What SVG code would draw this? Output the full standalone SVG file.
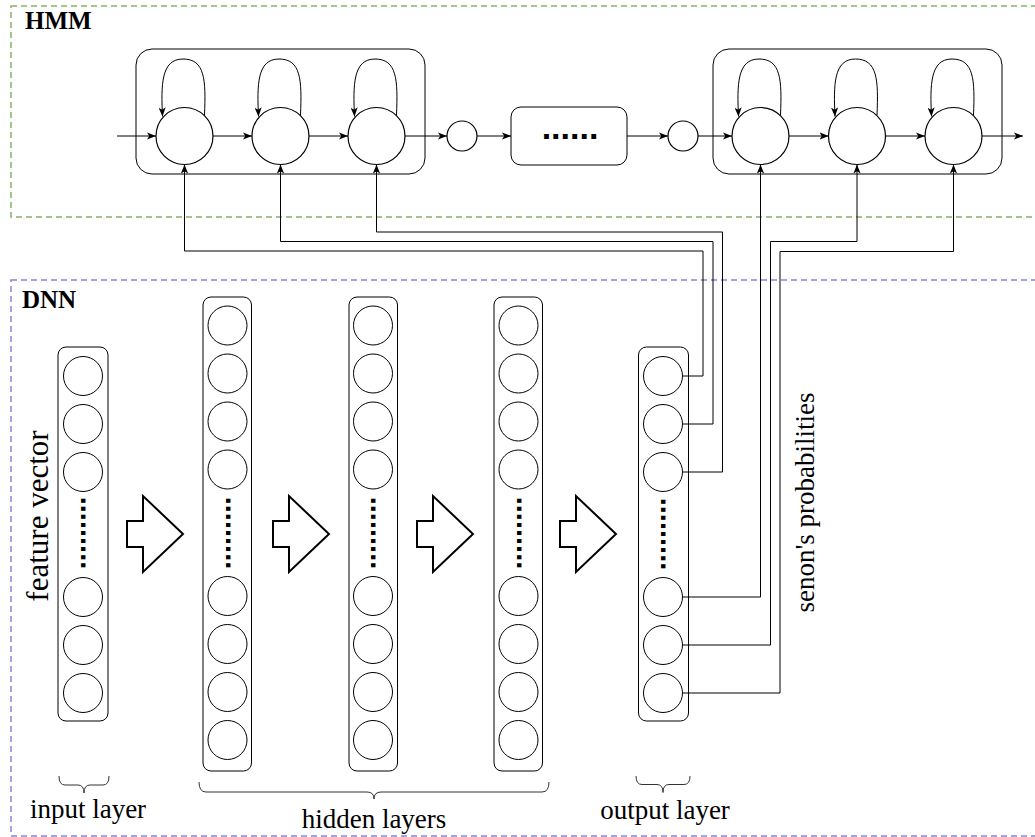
<svg xmlns="http://www.w3.org/2000/svg" width="1035" height="837" viewBox="0 0 1035 837">
  <defs>
    <marker id="arrow" viewBox="0 0 10 8" refX="10" refY="4" markerWidth="9" markerHeight="7.2" markerUnits="userSpaceOnUse" orient="auto">
      <path d="M0,0 L10,4 L0,8 L2.5,4 z" fill="#000"/>
    </marker>
    <polygon id="block-arrow" points="127,521 143,521 143,496 183,534 143,572 143,547 127,547"/>
    <style>
      .frame-hmm{fill:none;stroke:#82b366;stroke-width:1.5;stroke-dasharray:6 4}
      .frame-dnn{fill:none;stroke:#8585dc;stroke-width:1.5;stroke-dasharray:6 4}
      .box{fill:none;stroke:#000;stroke-width:1}
      .state{fill:#fff;stroke:#000;stroke-width:1.2}
      .unit{fill:#fff;stroke:#000;stroke-width:1}
      .wire{fill:none;stroke:#000;stroke-width:1}
      .arr{marker-end:url(#arrow)}
      .block{fill:#fff;stroke:#000;stroke-width:2}
      .brace{fill:none;stroke:#333;stroke-width:1}
      .label{font-family:"Liberation Serif","Times New Roman",serif;font-size:27px;fill:#000}
      .label-big{font-size:31px}
      .title{font-family:"Liberation Serif","Times New Roman",serif;font-size:25px;font-weight:bold;fill:#000}
      .dots{font-family:"Liberation Sans",Arial,sans-serif;font-weight:bold;font-size:34px;fill:#000}
      .vdots{font-family:"Liberation Sans",Arial,sans-serif;font-weight:bold;font-size:29px;fill:#000}
    </style>
  </defs>

  <rect width="1035" height="837" fill="#fff"/>

  <!-- frames -->
  <g id="hmm-frame">
    <rect class="frame-hmm" x="11" y="6" width="1040" height="211"/>
    <text class="title" x="25" y="29">HMM</text>
  </g>
  <g id="dnn-frame">
    <rect class="frame-dnn" x="11" y="280" width="1040" height="556"/>
    <text class="title" x="22" y="308">DNN</text>
  </g>

  <!-- connectors -->
  <g id="connectors">
    <!-- chain transitions -->
    <line class="wire arr" x1="117" y1="136" x2="156" y2="136"/>
    <line class="wire arr" x1="213" y1="136" x2="252" y2="136"/>
    <line class="wire arr" x1="309" y1="136" x2="348" y2="136"/>
    <line class="wire arr" x1="405" y1="136" x2="447" y2="136"/>
    <line class="wire arr" x1="477" y1="136" x2="511" y2="136"/>
    <line class="wire arr" x1="627" y1="136" x2="668" y2="136"/>
    <line class="wire arr" x1="698" y1="136" x2="732" y2="136"/>
    <line class="wire arr" x1="789" y1="136" x2="828.5" y2="136"/>
    <line class="wire arr" x1="885.5" y1="136" x2="925" y2="136"/>
    <line class="wire arr" x1="982" y1="136" x2="1023" y2="136"/>
    <!-- self loops -->
    <path class="wire arr" d="M204.5,115 C206,80 205,59 183,59 C161,59 161,85 162.5,116.5"/>
    <path class="wire arr" d="M300.5,115 C302,80 301,59 279,59 C257,59 257,85 258.5,116.5"/>
    <path class="wire arr" d="M396.5,115 C398,80 397,59 375,59 C353,59 353,85 354.5,116.5"/>
    <path class="wire arr" d="M780.5,115 C782,80 781,59 759,59 C737,59 737,85 738.5,116.5"/>
    <path class="wire arr" d="M877,115 C878.5,80 877.5,59 855.5,59 C833.5,59 833.5,85 835,116.5"/>
    <path class="wire arr" d="M973.5,115 C975,80 974,59 952,59 C930,59 930,85 931.5,116.5"/>
    <!-- output units to HMM states -->
    <polyline class="wire arr" points="682.5,376 703,376 703,251 184.5,251 184.5,164.5"/>
    <polyline class="wire arr" points="682.5,424 713,424 713,241.5 280.5,241.5 280.5,164.5"/>
    <polyline class="wire arr" points="682.5,472 722.5,472 722.5,232 376.5,232 376.5,164.5"/>
    <polyline class="wire arr" points="682.5,597 760.5,597 760.5,164.5"/>
    <polyline class="wire arr" points="682.5,645 770.5,645 770.5,241.5 857,241.5 857,164.5"/>
    <polyline class="wire arr" points="682.5,693 780,693 780,251.5 953.5,251.5 953.5,164.5"/>
  </g>

  <!-- HMM nodes -->
  <g id="hmm-model-a">
    <rect class="box" x="136" y="49" width="289" height="125" rx="16"/>
  </g>
  <g id="state-a1"><circle class="state" cx="184.5" cy="136" r="28.5"/></g>
  <g id="state-a2"><circle class="state" cx="280.5" cy="136" r="28.5"/></g>
  <g id="state-a3"><circle class="state" cx="376.5" cy="136" r="28.5"/></g>
  <g id="junction-1"><circle class="state" cx="462" cy="136" r="15"/></g>
  <g id="hmm-ellipsis">
    <rect class="box" x="511" y="107" width="116" height="58" rx="10" fill="#fff"/>
    <text class="dots" x="570" y="138.5" text-anchor="middle">......</text>
  </g>
  <g id="junction-2"><circle class="state" cx="683" cy="136" r="15"/></g>
  <g id="hmm-model-b">
    <rect class="box" x="713" y="49" width="289" height="125" rx="16"/>
  </g>
  <g id="state-b1"><circle class="state" cx="760.5" cy="136" r="28.5"/></g>
  <g id="state-b2"><circle class="state" cx="857" cy="136" r="28.5"/></g>
  <g id="state-b3"><circle class="state" cx="953.5" cy="136" r="28.5"/></g>

  <!-- DNN layers -->
  <g id="input-layer">
    <rect class="box" x="58" y="347" width="50" height="374" rx="8"/>
    <circle class="unit" cx="83" cy="376" r="19.5"/>
    <circle class="unit" cx="83" cy="424" r="19.5"/>
    <circle class="unit" cx="83" cy="472" r="19.5"/>
    <text class="vdots" transform="translate(83,533) rotate(90)" x="0" y="2" text-anchor="middle">.........</text>
    <circle class="unit" cx="83" cy="597" r="19.5"/>
    <circle class="unit" cx="83" cy="645" r="19.5"/>
    <circle class="unit" cx="83" cy="693" r="19.5"/>
  </g>
  <g id="hidden-layer-1">
    <rect class="box" x="203" y="297" width="48.5" height="474" rx="8"/>
    <circle class="unit" cx="227.5" cy="325.5" r="19.5"/>
    <circle class="unit" cx="227.5" cy="373.5" r="19.5"/>
    <circle class="unit" cx="227.5" cy="421.5" r="19.5"/>
    <circle class="unit" cx="227.5" cy="469.5" r="19.5"/>
    <text class="vdots" transform="translate(227.5,533) rotate(90)" x="0" y="2" text-anchor="middle">.........</text>
    <circle class="unit" cx="227.5" cy="596" r="19.5"/>
    <circle class="unit" cx="227.5" cy="644" r="19.5"/>
    <circle class="unit" cx="227.5" cy="692" r="19.5"/>
    <circle class="unit" cx="227.5" cy="740" r="19.5"/>
  </g>
  <g id="hidden-layer-2">
    <rect class="box" x="349" y="297" width="48.5" height="474" rx="8"/>
    <circle class="unit" cx="373" cy="325.5" r="19.5"/>
    <circle class="unit" cx="373" cy="373.5" r="19.5"/>
    <circle class="unit" cx="373" cy="421.5" r="19.5"/>
    <circle class="unit" cx="373" cy="469.5" r="19.5"/>
    <text class="vdots" transform="translate(373,533) rotate(90)" x="0" y="2" text-anchor="middle">.........</text>
    <circle class="unit" cx="373" cy="596" r="19.5"/>
    <circle class="unit" cx="373" cy="644" r="19.5"/>
    <circle class="unit" cx="373" cy="692" r="19.5"/>
    <circle class="unit" cx="373" cy="740" r="19.5"/>
  </g>
  <g id="hidden-layer-3">
    <rect class="box" x="494" y="297" width="48.5" height="474" rx="8"/>
    <circle class="unit" cx="518.5" cy="325.5" r="19.5"/>
    <circle class="unit" cx="518.5" cy="373.5" r="19.5"/>
    <circle class="unit" cx="518.5" cy="421.5" r="19.5"/>
    <circle class="unit" cx="518.5" cy="469.5" r="19.5"/>
    <text class="vdots" transform="translate(518.5,533) rotate(90)" x="0" y="2" text-anchor="middle">.........</text>
    <circle class="unit" cx="518.5" cy="596" r="19.5"/>
    <circle class="unit" cx="518.5" cy="644" r="19.5"/>
    <circle class="unit" cx="518.5" cy="692" r="19.5"/>
    <circle class="unit" cx="518.5" cy="740" r="19.5"/>
  </g>
  <g id="output-layer">
    <rect class="box" x="638.5" y="347" width="50" height="374" rx="8"/>
    <circle class="unit" cx="663" cy="376" r="19.5"/>
    <circle class="unit" cx="663" cy="424" r="19.5"/>
    <circle class="unit" cx="663" cy="472" r="19.5"/>
    <text class="vdots" transform="translate(663,534) rotate(90)" x="0" y="2" text-anchor="middle">.........</text>
    <circle class="unit" cx="663" cy="597" r="19.5"/>
    <circle class="unit" cx="663" cy="645" r="19.5"/>
    <circle class="unit" cx="663" cy="693" r="19.5"/>
  </g>

  <!-- forward-pass block arrows -->
  <g id="flow-arrows">
    <use href="#block-arrow" class="block"/>
    <use href="#block-arrow" class="block" x="146"/>
    <use href="#block-arrow" class="block" x="290"/>
    <use href="#block-arrow" class="block" x="433"/>
  </g>

  <!-- braces and captions -->
  <g id="captions">
    <path class="brace" d="M59,776 Q59,785 65,785 L78,785 Q84,785 84,793 Q84,785 90,785 L103,785 Q109,785 109,776"/>
    <path class="brace" d="M199,782 Q199,792 206,792 L367,792 Q374,792 374,799 Q374,792 381,792 L542,792 Q549,792 549,782"/>
    <path class="brace" d="M636,776 Q636,784.5 642,784.5 L657,784.5 Q663,784.5 663,792.5 Q663,784.5 669,784.5 L684,784.5 Q690,784.5 690,776"/>
    <text class="label" x="88" y="818" text-anchor="middle">input layer</text>
    <text class="label" x="374" y="828" text-anchor="middle">hidden layers</text>
    <text class="label" x="665" y="819" text-anchor="middle">output layer</text>
    <text class="label label-big" transform="translate(48,516) rotate(-90)" text-anchor="middle">feature vector</text>
    <text class="label" transform="translate(814,502.5) rotate(-90)" text-anchor="middle">senon's probabilities</text>
  </g>
</svg>
